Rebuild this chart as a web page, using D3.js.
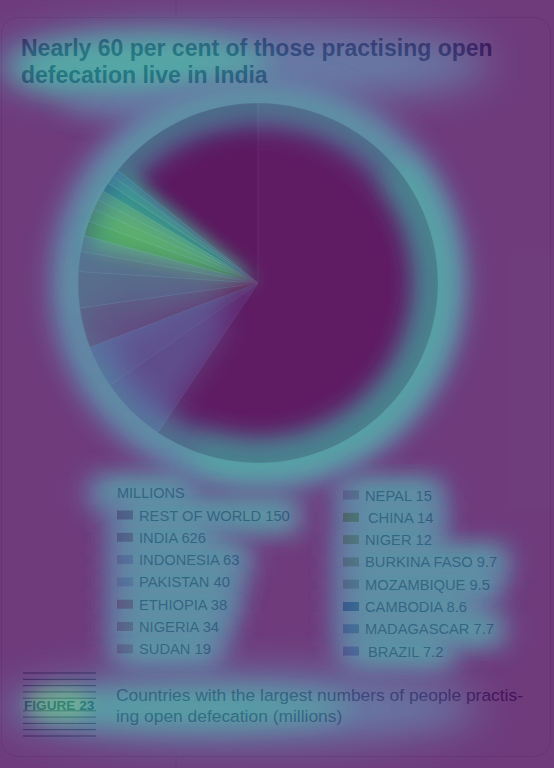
<!DOCTYPE html>
<html>
<head>
<meta charset="utf-8">
<script src="https://cdn.jsdelivr.net/npm/d3@7"></script>
<style>
html,body{margin:0;padding:0;background:#fff;}
svg{display:block;font-family:"Liberation Sans",Arial,Helvetica,sans-serif;}
</style>
</head>
<body>
<svg id="chart" width="554" height="768"></svg>
<script>
// ---- data ----
const countries = ["REST OF WORLD","INDIA","INDONESIA","PAKISTAN","ETHIOPIA","NIGERIA","SUDAN",
                   "NEPAL","CHINA","NIGER","BURKINA FASO","MOZAMBIQUE","CAMBODIA","MADAGASCAR","BRAZIL"];
const values = [150,626,63,40,38,34,19,15,14,12,9.7,9.5,8.6,7.7,7.2];
const palette = ["#b06a88","#c07a98","#d0a8d8","#d0b8e0","#e07082","#d8889a","#d898a8",
                 "#d8a0b0","#a8b038","#b8b860","#c0b080","#b8b0a0","#5a78b0","#8a98c8","#a090d0"];
const titleLines = ["Nearly 60 per cent of those practising open","defecation live in India"];
const legendTitle = "MILLIONS";
const figureLabel = "FIGURE 23";
const captionLines = ["Countries with the largest numbers of people practis-","ing open defecation (millions)"];

const svg = d3.select("#chart");
const W = 554, H = 768;
const deg = Math.PI/180;

// ---- defs ----
const defs = svg.append("defs");
[["blurXL",28],["blurL",20],["blurM",13],["blurS",8]].forEach(([id,s])=>{
  defs.append("filter").attr("id",id).attr("x","-80%").attr("y","-80%").attr("width","260%").attr("height","260%")
    .append("feGaussianBlur").attr("stdDeviation",s);
});

// ---- base page ----
const base = svg.append("g");
base.append("rect").attr("width",W).attr("height",H).attr("fill","#ffffff");
base.append("rect").attr("x",1.5).attr("y",17.5).attr("width",549).attr("height",739).attr("rx",16)
  .attr("fill","#ffffff").attr("stroke","#e0e0e0").attr("stroke-width",1);
base.append("line").attr("x1",176).attr("x2",176).attr("y1",0).attr("y2",17).attr("stroke","#e0e0e0");
base.append("line").attr("x1",176).attr("x2",176).attr("y1",757).attr("y2",768).attr("stroke","#e0e0e0");

// title
base.append("g").selectAll("text").data(titleLines).join("text")
  .attr("x",21).attr("y",(d,i)=>56+i*27)
  .attr("font-size",23).attr("font-weight","bold").attr("fill","#2a4868").text(d=>d);

// pie
const total = d3.sum(values);
const color = d3.scaleOrdinal().domain(countries).range(palette);
const a0 = -2*Math.PI*values[0]/total;
const pie = d3.pie().sort(null).value(d=>d.v).startAngle(a0).endAngle(2*Math.PI + a0);
const arcs = pie(countries.map((c,i)=>({c, v:values[i]})));
const cx = 258, cy = 283, R = 180;
const arc = d3.arc().innerRadius(0).outerRadius(R);
base.append("g").attr("transform",`translate(${cx},${cy})`)
  .selectAll("path").data(arcs).join("path")
  .attr("d",arc).attr("fill",d=>color(d.data.c)).attr("stroke","#ffffff").attr("stroke-opacity",0.6).attr("stroke-width",0.5);

// legend
const leg = base.append("g");
const legTexts = [];
legTexts.push(leg.append("text").attr("x",117).attr("y",498).attr("font-size",14.5).attr("fill","#485070").text(legendTitle).node());
const items = leg.selectAll("g.item").data(countries.map((c,i)=>({c,v:values[i],i}))).join("g")
  .attr("class","item")
  .attr("transform",d=> d.i<7 ? `translate(117,${515+d.i*22.3})` : `translate(343,${495+(d.i-7)*22.3})`);
items.append("rect").attr("x",0).attr("y",-4.5).attr("width",16).attr("height",9).attr("fill",d=>color(d.c));
items.append("text").attr("x",d=> (d.c==="CHINA"||d.c==="BRAZIL") ? 25 : 22).attr("y",5.5)
  .attr("font-size",14.7).attr("fill","#485070").text(d=>`${d.c} ${d.v}`)
  .each(function(){ legTexts.push(this); });

// figure label
const fig = base.append("g");
fig.selectAll("line").data(d3.range(11).filter(i=>i!==5)).join("line")
  .attr("x1",23).attr("x2",96).attr("y1",d=>673+d*6.3).attr("y2",d=>673+d*6.3)
  .attr("stroke","#3a5a5a").attr("stroke-width",1);
fig.append("text").attr("x",24).attr("y",710).attr("font-size",13.6).attr("font-weight","bold")
  .attr("fill","#00507a").text(figureLabel);
base.append("g").selectAll("text").data(captionLines).join("text")
  .attr("x",116).attr("y",(d,i)=>701+i*21).attr("font-size",17.4).attr("fill","#485070").text(d=>d);

// ---- attention overlay ----
const ov = svg.append("g").attr("opacity",0.77).style("pointer-events","none");
ov.append("rect").attr("width",W).attr("height",H).attr("fill","#440154");
const sector = (r0,r1,d0,d1)=>d3.arc().innerRadius(r0).outerRadius(r1).startAngle(d0*deg).endAngle(d1*deg)();
const blob = (el,fill,op,f)=>el.attr("fill",fill).attr("opacity",op).attr("filter",`url(#${f})`);
// title region
blob(ov.append("ellipse").attr("cx",240).attr("cy",64).attr("rx",250).attr("ry",40),"#3b528b",1,"blurL");
blob(ov.append("ellipse").attr("cx",140).attr("cy",68).attr("rx",130).attr("ry",32),"#21918c",0.95,"blurM");
blob(ov.append("ellipse").attr("cx",150).attr("cy",104).attr("rx",90).attr("ry",14),"#3b528b",0.8,"blurM");
// pie rim
ov.append("circle").attr("cx",cx).attr("cy",cy).attr("r",R+3).attr("fill","none").attr("stroke","#3b528b")
  .attr("stroke-width",52).attr("filter","url(#blurM)");
ov.append("circle").attr("cx",cx).attr("cy",cy).attr("r",R+1).attr("fill","none").attr("stroke","#21918c")
  .attr("stroke-width",20).attr("opacity",0.75).attr("filter","url(#blurM)");
ov.append("path").attr("transform",`translate(${cx},${cy})`).attr("d",sector(R-20,R+18,50,200))
  .attr("fill","#21918c").attr("opacity",0.7).attr("filter","url(#blurM)");
// small-slice wedge
const g = ov.append("g").attr("transform",`translate(${cx},${cy})`);
blob(g.append("path").attr("d",sector(50,R,214,250)),"#3b528b",0.6,"blurM");
blob(g.append("path").attr("d",sector(30,R,245,285)),"#3b528b",0.9,"blurM");
blob(g.append("path").attr("d",sector(20,R,262,284)),"#21918c",0.35,"blurM");
blob(g.append("path").attr("d",sector(0,R-5,281,311)),"#21918c",0.95,"blurS");
blob(g.append("path").attr("d",sector(10,R-15,283,302)),"#5ec962",0.55,"blurM");
// legend: glow follows each label
legTexts.forEach(t=>{
  const b = t.getBBox();
  const m = t.getCTM();
  const x = b.x + m.e, y = b.y + m.f;
  blob(ov.append("rect").attr("x",x-30).attr("y",y-9).attr("width",b.width+42).attr("height",b.height+18),"#3b528b",1,"blurM");
  blob(ov.append("rect").attr("x",x-14).attr("y",y-4).attr("width",b.width+16).attr("height",b.height+8),"#21918c",0.85,"blurM");
});
// caption
blob(ov.append("ellipse").attr("cx",240).attr("cy",708).attr("rx",240).attr("ry",36),"#3b528b",1,"blurL");
blob(ov.append("ellipse").attr("cx",190).attr("cy",708).attr("rx",160).attr("ry",20),"#21918c",0.8,"blurM");
blob(ov.append("ellipse").attr("cx",58).attr("cy",704).attr("rx",32).attr("ry",16),"#5ec962",0.45,"blurS");
</script>
</body>
</html>
